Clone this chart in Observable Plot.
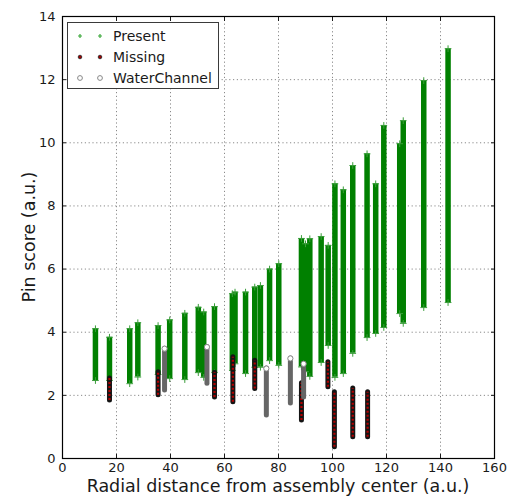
<!DOCTYPE html>
<html><head><meta charset="utf-8">
<script src="https://cdn.jsdelivr.net/npm/d3@7"></script>
<script src="https://cdn.jsdelivr.net/npm/@observablehq/plot@0.6"></script>
<style>
body{margin:0;background:#fff;font-family:"DejaVu Sans",sans-serif}
#wrap{position:relative;width:514px;height:500px}
.lab{position:absolute;font-size:17.5px;color:#1a1a1a;white-space:nowrap;line-height:1}
#xlab{left:278px;top:478px;transform:translateX(-50%)}
#ylab{left:30px;top:237px;transform:translate(-50%,-50%) rotate(-90deg)}
#legend{position:absolute;left:67px;top:22px;width:152px;height:67px;border:1.4px solid #3a3a3a;background:#fff;box-sizing:border-box}
.row{position:absolute;left:0;height:20px;width:150px;font-size:14px;color:#1a1a1a;line-height:20px}
.row svg{position:absolute;left:0;top:0}
.row span{position:absolute;left:45px;top:0}
</style></head><body>
<div id="wrap"></div>
<script>
// axes ticks
const xTicks = [0, 20, 40, 60, 80, 100, 120, 140, 160];
const yTicks = [0, 2, 4, 6, 8, 10, 12, 14];

// Present pins: radial position, min score, max score of each column
const presentX   = [12.2, 17.4, 24.9, 27.9, 35.4, 39.7, 45.3, 50.3, 52.3, 56.3, 62.9, 63.9, 67.8, 71.2, 73.3, 76.7, 80.1, 88.5, 90.0, 91.6, 95.8, 98.4, 100.9, 104.0, 107.5, 112.8, 116.0, 119.0, 124.9, 126.2, 133.8, 142.8];
const presentMin = [2.47, 2.47, 2.37, 2.58, 2.66, 2.53, 2.50, 2.72, 2.57, 2.72, 2.79, 3.00, 2.69, 2.89, 2.89, 3.10, 2.95, 2.90, 2.75, 2.60, 3.04, 3.58, 2.57, 2.69, 3.33, 3.83, 3.96, 4.15, 4.59, 4.28, 4.78, 4.94];
const presentMax = [4.11, 3.84, 4.11, 4.30, 4.21, 4.39, 4.60, 4.79, 4.64, 4.81, 5.22, 5.27, 5.27, 5.43, 5.48, 6.00, 6.17, 6.97, 6.80, 6.96, 7.03, 6.75, 8.70, 8.51, 9.28, 9.65, 8.70, 10.55, 9.97, 10.70, 11.97, 12.98];

// Missing pins
const missingX   = [17.4, 35.4, 56.3, 63.1, 71.2, 88.5, 98.3, 100.7, 107.5, 113.0];
const missingMin = [1.84, 2.00, 1.93, 1.78, 2.20, 1.20, 2.26, 0.36, 0.67, 0.67];
const missingMax = [2.53, 2.73, 2.72, 3.21, 3.10, 2.38, 3.05, 2.10, 2.22, 2.10];

// Water channels
const waterX   = [37.8, 53.5, 75.5, 84.4, 89.3];
const waterMin = [2.15, 2.37, 1.36, 1.74, 1.93];
const waterMax = [3.48, 3.53, 2.85, 3.17, 3.00];

const toRows = (xs, lo, hi) => xs.map((x, i) => ({x, y1: lo[i], y2: hi[i]}));
const present = toRows(presentX, presentMin, presentMax);
const missing = toRows(missingX, missingMin, missingMax);
const water = toRows(waterX, waterMin, waterMax);

const chart = Plot.plot({
  width: 514, height: 500,
  marginLeft: 62, marginRight: 20, marginTop: 16, marginBottom: 42,
  x: {domain: [0, 160]},
  y: {domain: [0, 14]},
  style: {fontFamily: "DejaVu Sans", fontSize: "13px", color: "#1a1a1a", background: "#fff"},
  marks: [
    Plot.ruleX(xTicks.slice(1, -1), {stroke: "#8a8a8a", strokeWidth: 1, strokeDasharray: "1.2,2.6"}),
    Plot.ruleY(yTicks.slice(1, -1), {stroke: "#8a8a8a", strokeWidth: 1, strokeDasharray: "1.2,2.6"}),
    Plot.ruleX(present, {x: "x", y1: "y1", y2: "y2", stroke: "#008000", strokeWidth: 5.5}),
    Plot.dot(present, {x: "x", y: "y2", symbol: "plus", r: 2.3, stroke: "#3a9d3a", strokeWidth: 1}),
    Plot.dot(present, {x: "x", y: "y1", symbol: "plus", r: 2.3, stroke: "#3a9d3a", strokeWidth: 1}),
    Plot.ruleX(missing, {x: "x", y1: "y1", y2: "y2", stroke: "#141414", strokeWidth: 5, strokeLinecap: "round"}),
    Plot.ruleX(missing, {x: "x", y1: "y1", y2: "y2", stroke: "#b30000", strokeWidth: 2.2, strokeDasharray: "2,2"}),
    Plot.ruleX(water, {x: "x", y1: "y1", y2: "y2", stroke: "#666", strokeWidth: 5, strokeLinecap: "round"}),
    Plot.dot(water, {x: "x", y: "y2", r: 2.6, stroke: "#8a8a8a", fill: "#fff", strokeWidth: 1}),
    Plot.axisX({ticks: xTicks, anchor: "bottom", tickSize: -4, tickPadding: 8, label: null, fontSize: 13}),
    Plot.axisX({ticks: xTicks, anchor: "top", tickSize: -4, tickFormat: () => "", label: null}),
    Plot.axisY({ticks: yTicks, anchor: "left", tickSize: -4, tickPadding: 11, label: null, fontSize: 13}),
    Plot.axisY({ticks: yTicks, anchor: "right", tickSize: -4, tickFormat: () => "", label: null}),
    Plot.frame({stroke: "#000", strokeWidth: 1.2})
  ]
});
const wrap = document.getElementById("wrap");
wrap.appendChild(chart);

const xl = document.createElement("div"); xl.className = "lab"; xl.id = "xlab";
xl.textContent = "Radial distance from assembly center (a.u.)"; wrap.appendChild(xl);
const yl = document.createElement("div"); yl.className = "lab"; yl.id = "ylab";
yl.textContent = "Pin score (a.u.)"; wrap.appendChild(yl);

// legend
const legendItems = [
  {label: "Present", svg: '<path d="M10,10h4M12,8v4M30,10h4M32,8v4" stroke="#3aa83a" stroke-width="1.2"/>'},
  {label: "Missing", svg: '<circle cx="12" cy="10" r="1.8" fill="#a00000" stroke="#222" stroke-width="0.8"/><circle cx="32" cy="10" r="1.8" fill="#a00000" stroke="#222" stroke-width="0.8"/>'},
  {label: "WaterChannel", svg: '<circle cx="12" cy="10" r="2.4" fill="#fff" stroke="#888" stroke-width="1"/><circle cx="32" cy="10" r="2.4" fill="#fff" stroke="#888" stroke-width="1"/>'}
];
const lg = document.createElement("div"); lg.id = "legend";
legendItems.forEach((it, i) => {
  const r = document.createElement("div"); r.className = "row";
  r.style.top = (3 + i * 21) + "px";
  r.innerHTML = '<svg width="44" height="20">' + it.svg + '</svg><span>' + it.label + '</span>';
  lg.appendChild(r);
});
wrap.appendChild(lg);
</script>
</body></html>
